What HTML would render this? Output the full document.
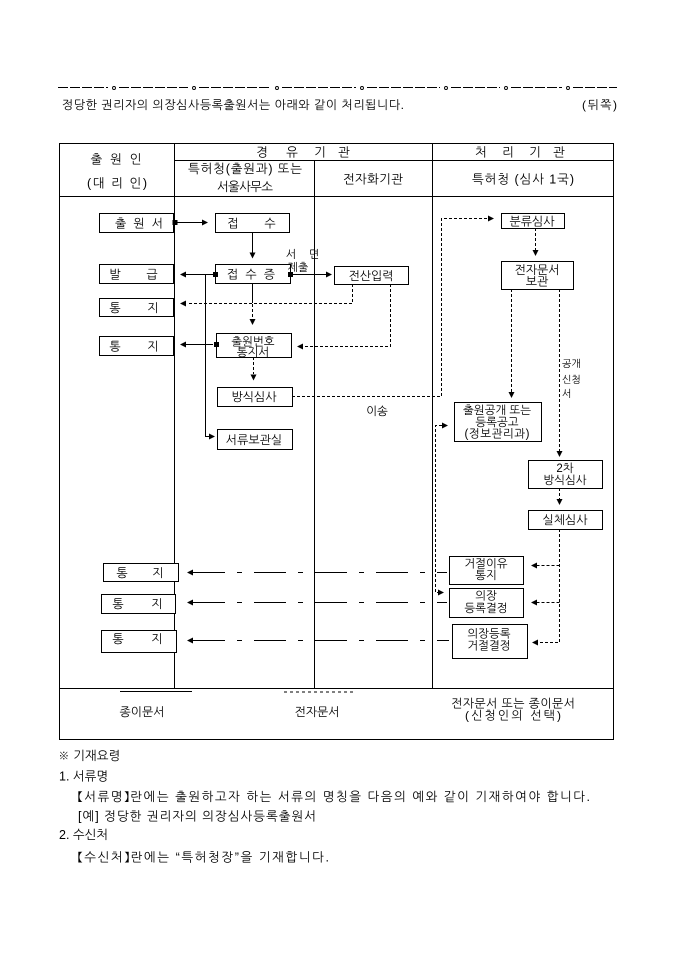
<!DOCTYPE html>
<html><head><meta charset="utf-8"><style>
html,body{margin:0;padding:0;background:#fff;}
svg{display:block;}
text{font-family:"Liberation Sans","NanumGothic","Noto Sans CJK KR",sans-serif;fill:#000;}
</style></head><body>
<svg width="680" height="962" viewBox="0 0 680 962" xmlns="http://www.w3.org/2000/svg">
<rect width="680" height="962" fill="#fff"/>

<!-- top separator -->
<g stroke="#000" stroke-width="1" stroke-dasharray="10 2">
<line x1="58" y1="87.5" x2="108" y2="87.5"/>
<line x1="119" y1="87.5" x2="188" y2="87.5"/>
<line x1="199" y1="87.5" x2="271" y2="87.5"/>
<line x1="282" y1="87.5" x2="356" y2="87.5"/>
<line x1="367" y1="87.5" x2="440" y2="87.5"/>
<line x1="451" y1="87.5" x2="500" y2="87.5"/>
<line x1="511" y1="87.5" x2="562" y2="87.5"/>
<line x1="573" y1="87.5" x2="617" y2="87.5"/>
</g>
<g stroke="#000" stroke-width="0.9" fill="none">
<circle cx="114" cy="88" r="1.5"/><circle cx="194" cy="88" r="1.5"/><circle cx="277" cy="88" r="1.5"/>
<circle cx="362" cy="88" r="1.5"/><circle cx="446" cy="88" r="1.5"/><circle cx="506" cy="88" r="1.5"/>
<circle cx="568" cy="88" r="1.5"/>
</g>
<text x="62" y="109" font-size="12" textLength="342">정당한 권리자의 의장심사등록출원서는 아래와 같이 처리됩니다.</text>
<text x="582" y="109" font-size="12" textLength="35">(뒤쪽)</text>

<!-- table -->
<g stroke="#000" stroke-width="1" fill="none">
<rect x="59.5" y="143.5" width="554" height="596"/>
<line x1="174.5" y1="160.5" x2="613.5" y2="160.5"/>
<line x1="59.5" y1="196.5" x2="613.5" y2="196.5"/>
<line x1="59.5" y1="688.5" x2="613.5" y2="688.5"/>
<line x1="174.5" y1="143.5" x2="174.5" y2="688.5"/>
<line x1="314.5" y1="160.5" x2="314.5" y2="688.5"/>
<line x1="432.5" y1="143.5" x2="432.5" y2="688.5"/>
</g>

<!-- header texts -->
<g font-size="12.5">
<text x="116" y="163.5" text-anchor="middle" textLength="51">출 원 인</text>
<text x="117" y="187.5" text-anchor="middle" textLength="60">(대 리 인)</text>
<text x="262" y="156.5" text-anchor="middle">경</text>
<text x="292" y="156.5" text-anchor="middle">유</text>
<text x="320" y="156.5" text-anchor="middle">기</text>
<text x="344" y="156.5" text-anchor="middle">관</text>
<text x="481" y="156.5" text-anchor="middle">처</text>
<text x="508" y="156.5" text-anchor="middle">리</text>
<text x="535" y="156.5" text-anchor="middle">기</text>
<text x="559" y="156.5" text-anchor="middle">관</text>
<text x="245" y="173" text-anchor="middle" textLength="114">특허청(출원과) 또는</text>
<text x="245" y="191" text-anchor="middle" textLength="56">서울사무소</text>
<text x="373" y="183.5" text-anchor="middle" textLength="60">전자화기관</text>
<text x="523" y="183.5" text-anchor="middle" textLength="102">특허청 (심사 1국)</text>
</g>

<!-- boxes -->
<g stroke="#000" stroke-width="1" fill="#fff">
<rect x="99.5" y="213.5" width="74" height="19"/>
<rect x="215.5" y="213.5" width="74" height="19"/>
<rect x="99.5" y="264.5" width="74" height="19"/>
<rect x="215.5" y="264.5" width="75" height="19"/>
<rect x="334.5" y="266.5" width="74" height="18"/>
<rect x="99.5" y="298.5" width="74" height="18"/>
<rect x="99.5" y="336.5" width="74" height="19"/>
<rect x="216.5" y="333.5" width="75" height="24"/>
<rect x="217.5" y="387.5" width="75" height="19"/>
<rect x="217.5" y="429.5" width="75" height="20"/>
<rect x="501.5" y="213.5" width="63" height="15"/>
<rect x="501.5" y="261.5" width="72" height="28"/>
<rect x="454.5" y="402.5" width="87" height="39"/>
<rect x="528.5" y="460.5" width="74" height="28"/>
<rect x="528.5" y="510.5" width="74" height="19"/>
<rect x="449.5" y="556.5" width="74" height="28"/>
<rect x="449.5" y="588.5" width="74" height="29"/>
<rect x="452.5" y="624.5" width="75" height="34"/>
<rect x="103.5" y="563.5" width="75" height="18"/>
<rect x="101.5" y="594.5" width="74" height="19"/>
<rect x="101.5" y="630.5" width="75" height="22"/>
</g>

<!-- box texts -->
<g font-size="12">
<text x="139" y="227.5" text-anchor="middle" textLength="48">출 원 서</text>
<text x="233" y="227.5" text-anchor="middle">접</text>
<text x="270" y="227.5" text-anchor="middle">수</text>
<text x="115" y="278.5" text-anchor="middle">발</text>
<text x="152" y="278.5" text-anchor="middle">급</text>
<text x="251" y="278.5" text-anchor="middle" textLength="48">접 수 증</text>
<text x="371" y="280" text-anchor="middle">전산입력</text>
<text x="115" y="312" text-anchor="middle">통</text>
<text x="153" y="312" text-anchor="middle">지</text>
<text x="115" y="350.5" text-anchor="middle">통</text>
<text x="153" y="350.5" text-anchor="middle">지</text>
<text x="253" y="345.5" text-anchor="middle" font-size="11.5">출원번호</text>
<text x="253" y="356" text-anchor="middle" font-size="11.5">통지서</text>
<text x="254" y="401" text-anchor="middle">방식심사</text>
<text x="254" y="444" text-anchor="middle">서류보관실</text>
<text x="532" y="225.5" text-anchor="middle">분류심사</text>
<text x="537" y="274" text-anchor="middle">전자문서</text>
<text x="537" y="285.5" text-anchor="middle">보관</text>
<text x="497" y="414" text-anchor="middle" font-size="11.5">출원공개 또는</text>
<text x="497" y="426" text-anchor="middle" font-size="11.5">등록공고</text>
<text x="497" y="437.5" text-anchor="middle" font-size="11.5" textLength="65">(정보관리과)</text>
<text x="565" y="472" text-anchor="middle" font-size="11.5">2차</text>
<text x="565" y="484" text-anchor="middle" font-size="11.5">방식심사</text>
<text x="565" y="524" text-anchor="middle">실체심사</text>
<text x="486" y="567.5" text-anchor="middle" font-size="11.5">거절이유</text>
<text x="486" y="579" text-anchor="middle" font-size="11.5">통지</text>
<text x="486" y="599.5" text-anchor="middle" font-size="11.5">의장</text>
<text x="486" y="612" text-anchor="middle" font-size="11.5">등록결정</text>
<text x="489" y="637.5" text-anchor="middle" font-size="11.5">의장등록</text>
<text x="489" y="649.5" text-anchor="middle" font-size="11.5">거절결정</text>
<text x="122" y="577" text-anchor="middle">통</text>
<text x="158" y="577" text-anchor="middle">지</text>
<text x="118" y="608" text-anchor="middle">통</text>
<text x="157" y="608" text-anchor="middle">지</text>
<text x="118" y="643" text-anchor="middle">통</text>
<text x="157" y="643" text-anchor="middle">지</text>
</g>

<!-- small labels -->
<g font-size="11">
<text x="291" y="258" text-anchor="middle">서</text>
<text x="314" y="258" text-anchor="middle">면</text>
<text x="298" y="271" text-anchor="middle">제출</text>
<text x="377" y="415" text-anchor="middle" font-size="11.5">이송</text>
</g>
<g font-size="10">
<text x="562" y="367">공개</text>
<text x="562" y="383">신청</text>
<text x="562" y="397">서</text>
</g>

<!-- solid connectors -->
<g stroke="#000" stroke-width="1" fill="none">
<line x1="177" y1="222.5" x2="203" y2="222.5"/>
<line x1="252.5" y1="232" x2="252.5" y2="253"/>
<line x1="213" y1="274.5" x2="186" y2="274.5"/>
<polyline points="213,274.5 205.5,274.5 205.5,436.5 210,436.5"/>
<line x1="292" y1="274.5" x2="326" y2="274.5"/>
<line x1="252.5" y1="283" x2="252.5" y2="303"/>
<line x1="213" y1="344.5" x2="186" y2="344.5"/>
</g>
<g fill="#000">
<rect x="172.5" y="220" width="5" height="5"/>
<rect x="213" y="272" width="5" height="5"/>
<rect x="288" y="272" width="5" height="5"/>
<rect x="214" y="342" width="5" height="5"/>
</g>

<!-- dashed / dotted connectors -->
<g stroke="#000" stroke-width="1" fill="none" stroke-dasharray="3 2">
<line x1="252.5" y1="304" x2="252.5" y2="319"/>
<polyline points="352.5,284 352.5,303.5 187,303.5"/>
<polyline points="390.5,284 390.5,346.5 303,346.5"/>
<line x1="253.5" y1="357" x2="253.5" y2="374"/>
<polyline points="292,396.5 441.5,396.5 441.5,218.5 488,218.5"/>
<line x1="535.5" y1="228" x2="535.5" y2="250"/>
<line x1="511.5" y1="289" x2="511.5" y2="392"/>
<line x1="559.5" y1="289" x2="559.5" y2="451"/>
<line x1="559.5" y1="488" x2="559.5" y2="499"/>
<polyline points="559.5,529 559.5,642.5 537,642.5"/>
<line x1="559.5" y1="565.5" x2="537" y2="565.5"/>
<line x1="559.5" y1="602.5" x2="537" y2="602.5"/>
<polyline points="442,425.5 435.5,425.5 435.5,592.5 438,592.5"/>
</g>

<!-- dash-dot long lines -->
<g stroke="#000" stroke-width="1" fill="none" stroke-dasharray="32 12 5 12">
<line x1="193" y1="572.5" x2="447" y2="572.5"/>
<line x1="193" y1="602.5" x2="447" y2="602.5"/>
<line x1="193" y1="640.5" x2="449" y2="640.5"/>
</g>

<!-- arrowheads -->
<g fill="#000">
<polygon points="208,222.5 202,219.5 202,225.5"/>
<polygon points="252.5,258.5 249.5,252.5 255.5,252.5"/>
<polygon points="180,274.5 186,271.5 186,277.5"/>
<polygon points="215,436.5 209,433.5 209,439.5"/>
<polygon points="332,274.5 326,271.5 326,277.5"/>
<polygon points="180,303.5 186,300.5 186,306.5"/>
<polygon points="252.5,325 249.5,319 255.5,319"/>
<polygon points="180,344.5 186,341.5 186,347.5"/>
<polygon points="297,346.5 303,343.5 303,349.5"/>
<polygon points="253.5,380.5 250.5,374.5 256.5,374.5"/>
<polygon points="494,218.5 488,215.5 488,221.5"/>
<polygon points="535.5,256 532.5,250 538.5,250"/>
<polygon points="511.5,398 508.5,392 514.5,392"/>
<polygon points="559.5,457 556.5,451 562.5,451"/>
<polygon points="559.5,505 556.5,499 562.5,499"/>
<polygon points="531,565.5 537,562.5 537,568.5"/>
<polygon points="531,602.5 537,599.5 537,605.5"/>
<polygon points="532,642.5 538,639.5 538,645.5"/>
<polygon points="448,425.5 442,422.5 442,428.5"/>
<polygon points="444,592.5 438,589.5 438,595.5"/>
<polygon points="187,572.5 193,569.5 193,575.5"/>
<polygon points="187,602.5 193,599.5 193,605.5"/>
<polygon points="187,640.5 193,637.5 193,643.5"/>
</g>

<!-- footer -->
<line x1="120" y1="691.5" x2="192" y2="691.5" stroke="#000" stroke-width="1"/>
<line x1="284" y1="692" x2="355" y2="692" stroke="#000" stroke-width="1" stroke-dasharray="3 3"/>
<g font-size="12">
<text x="142" y="716" text-anchor="middle">종이문서</text>
<text x="317" y="716" text-anchor="middle">전자문서</text>
<text x="513" y="707.5" text-anchor="middle" textLength="124">전자문서 또는 종이문서</text>
<text x="513" y="719.5" text-anchor="middle" textLength="96">(신청인의 선택)</text>
</g>

<!-- instructions -->
<g font-size="12.5">
<text x="58" y="760">※ 기재요령</text>
<text x="59" y="780.5">1. 서류명</text>
<text x="78" y="801" textLength="512">【서류명】란에는 출원하고자 하는 서류의 명칭을 다음의 예와 같이 기재하여야 합니다.</text>
<text x="78" y="820.5" textLength="238">[예] 정당한 권리자의 의장심사등록출원서</text>
<text x="59" y="839">2. 수신처</text>
<text x="78" y="861.5" textLength="251">【수신처】란에는 “특허청장”을 기재합니다.</text>
</g>
</svg>
</body></html>
